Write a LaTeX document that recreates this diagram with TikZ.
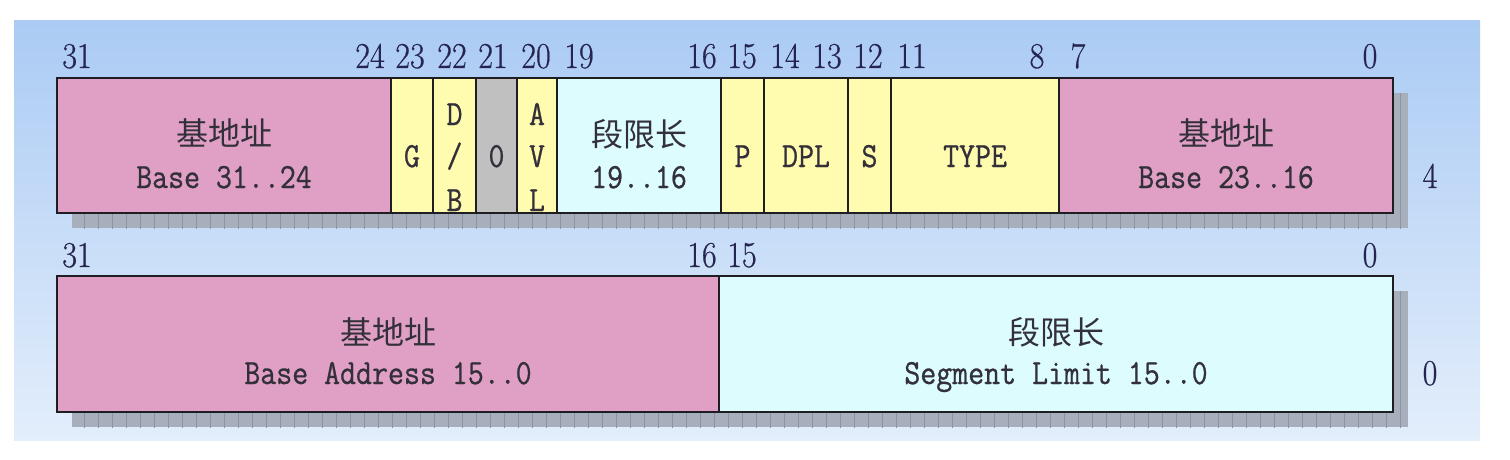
\documentclass[tikz,border=0pt]{standalone}
\usepackage{fontspec}
\usepackage{graphicx}
\newfontfamily\cjk{Noto Sans CJK SC}
\newfontfamily\monob{Latin Modern Mono}[FakeBold=0.8]
\newfontfamily\numb{Latin Modern Roman}[FakeBold=0.6]
\newcommand{\tallt}[1]{\scalebox{1}[1.14]{#1}}
\definecolor{bgtop}{HTML}{ABCBF4}
\definecolor{bgbot}{HTML}{E3EEFB}
\definecolor{pinkc}{HTML}{E0A0C5}
\definecolor{yelc}{HTML}{FFFCB0}
\definecolor{grayc}{HTML}{C0C0C0}
\definecolor{cyanc}{HTML}{DCFCFD}
\definecolor{shadc}{HTML}{A8AFBC}
\definecolor{gridc}{HTML}{8C93A2}
\definecolor{boxline}{HTML}{1E1E22}
\definecolor{numc}{HTML}{252550}
\definecolor{txtc}{HTML}{33303A}
\begin{document}
\begin{tikzpicture}[x=1pt,y=-1pt,
  fieldbox/.style={draw=boxline, line width=2pt, inner sep=0pt, outer sep=0pt},
  toprow/.style={fieldbox, minimum height=135pt},
  botrow/.style={fieldbox, minimum height=136pt},
  numlab/.style={anchor=base, text=numc, inner sep=0pt, font=\fontsize{32}{36}\selectfont\numb},
  latlab/.style={anchor=base, text=txtc, inner sep=0pt, font=\fontsize{31}{36}\selectfont\monob},
  cjklab/.style={text=txtc, inner sep=0pt, font=\fontsize{32}{36}\selectfont\cjk}]
\useasboundingbox (0,0) rectangle (1510,460);
% background
\shade[top color=bgtop, bottom color=bgbot] (14,21) rectangle (1480,440);
% shadows with grid
\begin{scope}
  \clip (72,93) rectangle (1408,228);
  \fill[shadc] (72,93) rectangle (1408,228);
  \draw[gridc, line width=0.9pt] (70,91) grid[step=14] (1410,230);
\end{scope}
\begin{scope}
  \clip (72,291) rectangle (1408,427);
  \fill[shadc] (72,291) rectangle (1408,427);
  \draw[gridc, line width=0.9pt] (70,287) grid[step=14] (1410,429);
\end{scope}
% top row fields
\node[toprow, fill=pinkc, minimum width=334pt] (bhi) at (224,145.5) {};
\node[toprow, fill=yelc, minimum width=42pt] (g) at (412,145.5) {};
\node[toprow, fill=yelc, minimum width=43pt] (db) at (454.5,145.5) {};
\node[toprow, fill=grayc, minimum width=41pt] (zero) at (496.5,145.5) {};
\node[toprow, fill=yelc, minimum width=40pt] (avl) at (537,145.5) {};
\node[toprow, fill=cyanc, minimum width=164pt] (lim) at (639,145.5) {};
\node[toprow, fill=yelc, minimum width=43pt] (p) at (742.5,145.5) {};
\node[toprow, fill=yelc, minimum width=84pt] (dpl) at (806,145.5) {};
\node[toprow, fill=yelc, minimum width=43pt] (s) at (869.5,145.5) {};
\node[toprow, fill=yelc, minimum width=168pt] (type) at (975,145.5) {};
\node[toprow, fill=pinkc, minimum width=334pt] (bmid) at (1226,145.5) {};
% bottom row fields
\node[botrow, fill=pinkc, minimum width=662pt] (blo) at (388,344) {};
\node[botrow, fill=cyanc, minimum width=674pt] (llo) at (1056,344) {};
% texts in top row
\node[cjklab] (bhic) at (224,133) {基地址};
\node[latlab] (bhit) at (224,188) {\tallt{Base 31..24}};
\node[latlab] (gt) at (412,167) {\tallt{G}};
\node[latlab] (dbd) at (454.5,125) {\tallt{D}};
\node[latlab] (dbs) at (454.5,167) {\tallt{/}};
\node[latlab] (dbb) at (454.5,211) {\tallt{B}};
\node[latlab] (zt) at (496.5,167) {\tallt{0}};
\node[latlab] (avla) at (537,125) {\tallt{A}};
\node[latlab] (avlv) at (537,167) {\tallt{V}};
\node[latlab] (avll) at (537,211) {\tallt{L}};
\node[cjklab] (limc) at (639,134) {段限长};
\node[latlab] (limt) at (639,188) {\tallt{19..16}};
\node[latlab] (pt) at (742.5,167) {\tallt{P}};
\node[latlab] (dplt) at (806,167) {\tallt{DPL}};
\node[latlab] (st) at (869.5,167) {\tallt{S}};
\node[latlab] (typet) at (975,167) {\tallt{TYPE}};
\node[cjklab] (bmidc) at (1226,133) {基地址};
\node[latlab] (bmidt) at (1226,188) {\tallt{Base 23..16}};
% texts in bottom row
\node[cjklab] (bloc) at (388,332) {基地址};
\node[latlab] (blot) at (388,384) {\tallt{Base Address 15..0}};
\node[cjklab] (lloc) at (1056,332) {段限长};
\node[latlab] (llot) at (1056,384) {\tallt{Segment Limit 15..0}};
% bit numbers, top row
\node[numlab] (n31a) at (77,68) {\tallt{31}};
\node[numlab] (n24) at (370,68) {\tallt{24}};
\node[numlab] (n23) at (410,68) {\tallt{23}};
\node[numlab] (n22) at (452,68) {\tallt{22}};
\node[numlab] (n21) at (493,68) {\tallt{21}};
\node[numlab] (n20) at (536,68) {\tallt{20}};
\node[numlab] (n19) at (579,68) {\tallt{19}};
\node[numlab] (n16a) at (702,68) {\tallt{16}};
\node[numlab] (n15a) at (742,68) {\tallt{15}};
\node[numlab] (n14) at (785,68) {\tallt{14}};
\node[numlab] (n13) at (827,68) {\tallt{13}};
\node[numlab] (n12) at (868,68) {\tallt{12}};
\node[numlab] (n11) at (912,68) {\tallt{11}};
\node[numlab] (n8) at (1037,68) {\tallt{8}};
\node[numlab] (n7) at (1078,68) {\tallt{7}};
\node[numlab] (n0a) at (1370,68) {\tallt{0}};
% bit numbers, bottom row
\node[numlab] (n31b) at (77,267) {\tallt{31}};
\node[numlab] (n16b) at (702,267) {\tallt{16}};
\node[numlab] (n15b) at (742,267) {\tallt{15}};
\node[numlab] (n0b) at (1370,267) {\tallt{0}};
% offsets
\node[numlab] (off4) at (1430,188) {\tallt{4}};
\node[numlab] (off0) at (1430,385) {\tallt{0}};
\end{tikzpicture}
\end{document}
